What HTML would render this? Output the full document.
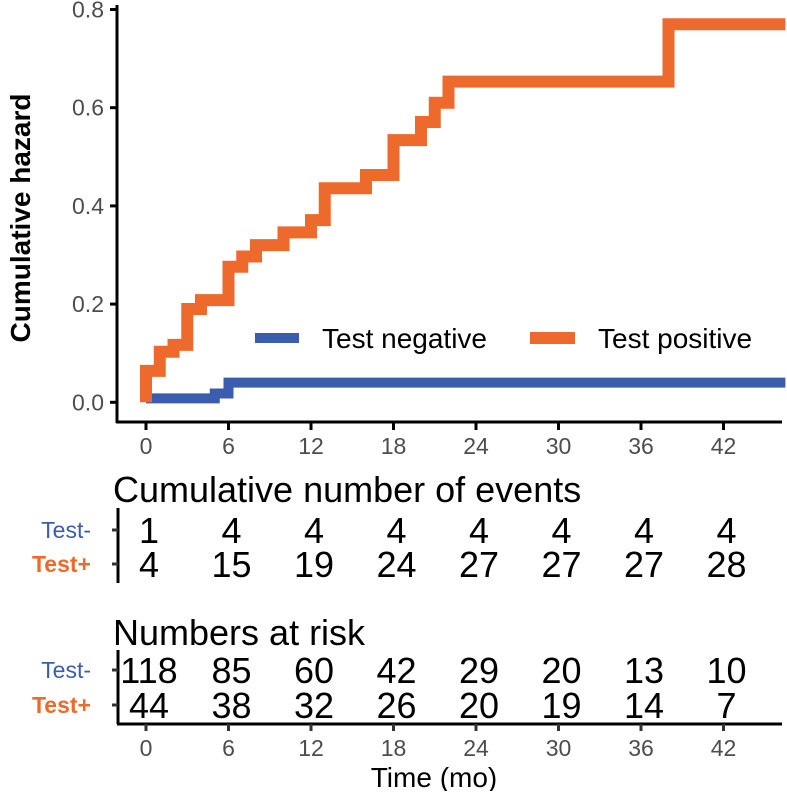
<!DOCTYPE html>
<html><head><meta charset="utf-8"><style>
body{margin:0;background:#fff;font-family:"Liberation Sans",sans-serif}
svg text{font-family:"Liberation Sans",sans-serif}
</style></head><body>
<svg id="c" width="787" height="791" viewBox="0 0 787 791"></svg>
<script>
const xTicks=[0,6,12,18,24,30,36,42];
const yTicks=[0,0.2,0.4,0.6,0.8];
const yTickLabels=["0.0","0.2","0.4","0.6","0.8"];
const posTimes=[0,0,1,2,3,4,6,7,8,10,12,13,16,18,20,21,22,38,46.5];
const posVals=[0,0.064,0.103,0.117,0.19,0.208,0.276,0.297,0.32,0.346,0.371,0.436,0.463,0.534,0.571,0.61,0.653,0.77,0.77];
const negTimes=[0,5,6,46.5];
const negVals=[0.008,0.018,0.04,0.04];
const eventsNeg=[1,4,4,4,4,4,4,4];
const eventsPos=[4,15,19,24,27,27,27,28];
const riskNeg=[118,85,60,42,29,20,13,10];
const riskPos=[44,38,32,26,20,19,14,7];
const ORANGE="#EE6A2C",BLUE="#3A5DAE";
const sx=t=>146+t*13.75;
const sy=v=>402.3-v*491;
const svg=document.getElementById('c');
const NS="http://www.w3.org/2000/svg";
function mk(tag,attrs,txt){const e=document.createElementNS(NS,tag);for(const k in attrs)e.setAttribute(k,attrs[k]);if(txt!==undefined)e.textContent=txt;svg.appendChild(e);return e;}
let e=mk('line',{x1:117,y1:5,x2:117,y2:423,stroke:'#000','stroke-width':3});


e=mk('line',{x1:116,y1:422,x2:782,y2:422,stroke:'#000','stroke-width':3});


yTicks.forEach((v,i)=>{
 let t=mk('line',{x1:110,y1:sy(v),x2:117,y2:sy(v),stroke:'#000','stroke-width':3});
 
 
 let l=mk('text',{x:104,y:sy(v)+8,'text-anchor':'end','font-size':23,fill:'#4d4d4d'},yTickLabels[i]);
 
 
});
xTicks.forEach(v=>{
 let t=mk('line',{x1:sx(v),y1:422,x2:sx(v),y2:430,stroke:'#000','stroke-width':3});
 
 
 let l=mk('text',{x:sx(v),y:454,'text-anchor':'middle','font-size':23,fill:'#4d4d4d'},String(v));
 
 
});
e=mk('text',{x:0,y:0,transform:'translate(30,218) rotate(-90)','text-anchor':'middle','font-size':28,'font-weight':'bold',fill:'#000'},'Cumulative hazard');


function stepPath(ts,vs){let d='M'+sx(ts[0])+','+sy(vs[0]);for(let i=1;i<ts.length;i++){d+=' H'+sx(ts[i])+' V'+sy(vs[i]);}return d;}
e=mk('path',{d:stepPath(negTimes,negVals),fill:'none',stroke:BLUE,'stroke-width':10});


e=mk('path',{d:stepPath(posTimes,posVals),fill:'none',stroke:ORANGE,'stroke-width':12});


e=mk('line',{x1:255,y1:338,x2:299,y2:338,stroke:BLUE,'stroke-width':10});


e=mk('text',{x:322,y:348,'font-size':28,fill:'#000'},'Test negative');


e=mk('line',{x1:530,y1:338,x2:575,y2:338,stroke:ORANGE,'stroke-width':12});


e=mk('text',{x:598,y:348,'font-size':28,fill:'#000'},'Test positive');


function table(title,titleY,row1Y,row2Y,a,b,name,top,bot){
 let t=mk('text',{x:113,y:titleY,'font-size':36,fill:'#000'},title);
 
 
 let v=mk('line',{x1:118,y1:top,x2:118,y2:bot,stroke:'#000','stroke-width':3});
 
 
 [[row1Y,'Test-',BLUE,a],[row2Y,'Test+',ORANGE,b]].forEach(([y,lab,col,vals])=>{
  let tk=mk('line',{x1:112,y1:y,x2:118,y2:y,stroke:'#333','stroke-width':3});
  
  
  let l=mk('text',{x:91,y:y+8,'text-anchor':'end','font-size':23,fill:col,'font-weight':lab==='Test+'?'bold':'normal'},lab);
  
  
  vals.forEach((n,i)=>{
   let c=mk('text',{x:sx(xTicks[i])+3,y:y+13,'text-anchor':'middle','font-size':36,fill:'#000'},String(n));
   
   
  });
 });
}
table('Cumulative number of events',502,530,564,eventsNeg,eventsPos,'events-table',508,583);
table('Numbers at risk',645,670,705,riskNeg,riskPos,'risk-table',650,724);
e=mk('line',{x1:117,y1:724,x2:782,y2:724,stroke:'#000','stroke-width':3});


xTicks.forEach(v=>{
 let t=mk('line',{x1:sx(v),y1:724,x2:sx(v),y2:731,stroke:'#333','stroke-width':3});
 
 
 let l=mk('text',{x:sx(v),y:756,'text-anchor':'middle','font-size':23,fill:'#4d4d4d'},String(v));
 
 
});
e=mk('text',{x:434,y:787,'text-anchor':'middle','font-size':28,fill:'#000'},'Time (mo)');


</script>
</body></html>
